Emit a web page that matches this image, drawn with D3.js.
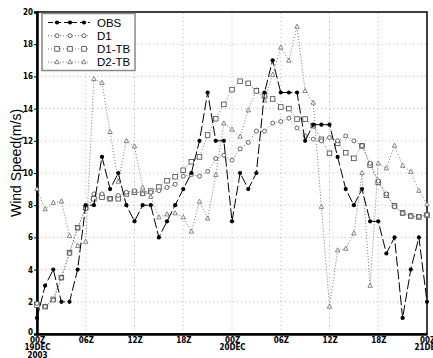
<!DOCTYPE html>
<html>
<head>
<meta charset="utf-8">
<script src="https://cdn.jsdelivr.net/npm/d3@7"></script>
<style>
  body { margin: 0; background: #fff; }
  .tick-label { font-family: "Liberation Sans Narrow", "Arial Narrow", "DejaVu Sans Condensed", sans-serif; font-weight: bold; font-size: 8px; }
</style>
</head>
<body>
<div id="chart"></div>
<script>
// hours since 00Z 19DEC2003
const hours = [0,1,2,3,4,5,6,7,8,9,10,11,12,13,14,15,16,17,18,19,20,21,22,23,24,
    25,26,27,28,29,30,31,32,33,34,35,36,37,38,39,40,41,42,43,44,45,46,47,48];

const obs = [1,3,4,2,2,4,8,8,11,9,10,8,7,8,8,6,7,8,9,10,12,15,12,12,7,10,9,10,15,17,
    15,15,15,12,13,13,13,11,9,8,9,7,7,5,6,1,4,6,2];

const d1 = [1.9,1.7,2.1,3.5,5.0,6.6,7.8,8.7,8.7,8.4,8.6,8.8,8.9,8.7,8.8,8.9,9.1,9.3,9.8,9.9,
    9.8,10.1,10.9,11.1,10.8,11.5,11.9,12.6,12.6,13.1,13.2,13.4,12.8,12.3,12.1,12.0,12.2,12.0,
    12.3,12.0,11.7,10.6,9.5,8.7,7.9,7.5,7.3,7.3,7.4];

const d1tb = [1.8,1.7,2.15,3.5,5.05,6.6,7.85,8.4,8.5,8.4,8.4,8.7,8.8,8.74,8.88,9.13,9.52,9.77,
    10.17,10.7,11.0,12.36,13.37,14.26,15.18,15.7,15.57,15.1,14.8,14.6,14.1,14.0,13.35,13.35,
    12.94,12.09,11.22,11.84,11.26,10.91,11.68,10.5,9.42,8.63,7.97,7.52,7.33,7.27,7.39];

const d2tb = [9.0,7.75,8.15,8.24,6.1,5.47,5.73,15.84,15.6,12.55,9.46,11.99,11.66,9.1,8.53,7.25,
    7.43,7.5,7.25,6.36,8.22,7.18,9.88,13.08,12.7,12.26,13.9,15.15,14.5,16.1,17.8,16.98,19.09,
    15.1,14.37,7.9,1.7,5.2,5.3,6.25,10.0,3.0,10.6,10.29,11.7,10.45,10.08,8.9,8.05];

const seriesNames = ["OBS", "D1", "D1-TB", "D2-TB"];
const yTicks = [0,2,4,6,8,10,12,14,16,18,20];
const xTicks = [0,6,12,18,24,30,36,42,48];
const xTickLabels = [["00Z","19DEC","2003"],["06Z"],["12Z"],["18Z"],["00Z","20DEC"],["06Z"],["12Z"],["18Z"],["00Z","21DEC"]];

const width = 433, height = 358;
const margin = { top: 12, right: 6, bottom: 24, left: 37 };

const svg = d3.select("#chart").append("svg")
    .attr("width", width)
    .attr("height", height);

const xScale = d3.scaleLinear().domain([0, 48]).range([margin.left, width - margin.right]);
const yScale = d3.scaleLinear().domain([0, 20]).range([height - margin.bottom, margin.top]);

// dotted grid
svg.append("g").selectAll("line.h")
    .data(yTicks.slice(1, -1))
    .enter().append("line")
    .attr("x1", xScale(0)).attr("x2", xScale(48))
    .attr("y1", d => yScale(d)).attr("y2", d => yScale(d))
    .attr("stroke", "#bbb").attr("stroke-width", 1).attr("stroke-dasharray", "1,3");

svg.append("g").selectAll("line.v")
    .data(xTicks.slice(1, -1))
    .enter().append("line")
    .attr("x1", d => xScale(d)).attr("x2", d => xScale(d))
    .attr("y1", yScale(0)).attr("y2", yScale(20))
    .attr("stroke", "#bbb").attr("stroke-width", 1).attr("stroke-dasharray", "1,3");

// frame
svg.append("rect")
    .attr("x", xScale(0)).attr("y", yScale(20))
    .attr("width", xScale(48) - xScale(0)).attr("height", yScale(0) - yScale(20))
    .attr("fill", "none").attr("stroke", "#000").attr("stroke-width", 1.5);

// axes
const yAxis = d3.axisLeft(yScale).tickValues(yTicks).tickSize(3).tickPadding(1);
const yG = svg.append("g")
    .attr("transform", `translate(${xScale(0)},0)`)
    .call(yAxis);
yG.select(".domain").attr("stroke-width", 2.5);
yG.selectAll("text").attr("class", "tick-label").attr("fill", "#000");
yG.selectAll(".tick").filter(d => d === 0).select("text").attr("dy", "0.1em");

const xAxis = d3.axisBottom(xScale).tickValues(xTicks).tickSize(0).tickFormat("");
const xG = svg.append("g")
    .attr("transform", `translate(0,${yScale(0)})`)
    .call(xAxis);
xG.select(".domain").attr("stroke-width", 2.5);

xG.selectAll(".tick").each(function (d, i) {
    const t = d3.select(this).append("text")
        .attr("class", "tick-label")
        .attr("text-anchor", "middle")
        .attr("fill", "#000");
    xTickLabels[i].forEach((line, j) => {
        t.append("tspan").attr("x", 0).attr("y", 8.5 + j * 7.5).text(line);
    });
});

// y title
svg.append("text")
    .attr("transform", `translate(21,${(yScale(0) + yScale(20)) / 2 - 10}) rotate(-90)`)
    .attr("text-anchor", "middle")
    .style("font-family", "Liberation Sans, Arial, sans-serif")
    .style("font-size", "14px")
    .text("Wind  Speed(m/s)");

const lineGen = d3.line()
    .x(d => xScale(d.h))
    .y(d => yScale(d.v));

const styles = [
    { data: obs, dash: "10,3", stroke: "#000", width: 1, marker: "dot" },
    { data: d1, dash: "1,2", stroke: "#777", width: 1, marker: "circle" },
    { data: d1tb, dash: "1,2", stroke: "#777", width: 1, marker: "square" },
    { data: d2tb, dash: "1,2", stroke: "#777", width: 1, marker: "triangle" }
];

function drawMarker(g, type, x, y) {
    if (type === "dot") {
        g.append("circle").attr("cx", x).attr("cy", y).attr("r", 2.1).attr("fill", "#000");
    } else if (type === "circle") {
        g.append("circle").attr("cx", x).attr("cy", y).attr("r", 2)
            .attr("fill", "#fff").attr("stroke", "#444").attr("stroke-width", 0.8);
    } else if (type === "square") {
        g.append("rect").attr("x", x - 2.3).attr("y", y - 2.3).attr("width", 4.6).attr("height", 4.6)
            .attr("fill", "#fff").attr("stroke", "#444").attr("stroke-width", 0.8);
    } else {
        g.append("path").attr("d", `M${x},${y - 2.5}L${x + 2.2},${y + 1.6}L${x - 2.2},${y + 1.6}Z`)
            .attr("fill", "#fff").attr("stroke", "#555").attr("stroke-width", 0.7);
    }
}

// draw series, last one first so OBS sits on top
styles.slice().reverse().forEach(s => {
    const pts = hours.map((h, i) => ({ h, v: s.data[i] }));
    svg.append("path")
        .attr("d", lineGen(pts))
        .attr("fill", "none")
        .attr("stroke", s.stroke)
        .attr("stroke-width", s.width)
        .attr("stroke-dasharray", s.dash);
    const g = svg.append("g");
    pts.forEach(p => drawMarker(g, s.marker, xScale(p.h), yScale(p.v)));
});

// legend
const legend = svg.append("g");
legend.append("rect")
    .attr("x", 42).attr("y", 13.5).attr("width", 93).attr("height", 57)
    .attr("fill", "#fff").attr("stroke", "#888").attr("stroke-width", 1.5);

seriesNames.forEach((name, i) => {
    const s = styles[i];
    const y = 22.5 + i * 13.2;
    legend.append("line")
        .attr("x1", 48).attr("x2", 90).attr("y1", y).attr("y2", y)
        .attr("stroke", s.stroke).attr("stroke-width", 1)
        .attr("stroke-dasharray", i === 0 ? "5,3" : "1,2");
    [57, 70, 84].forEach(x => drawMarker(legend, s.marker, x, y));
    legend.append("text")
        .attr("x", 97).attr("y", y + 4)
        .style("font-family", "Liberation Sans, Arial, sans-serif")
        .style("font-size", "11.5px")
        .text(name);
});
</script>
</body>
</html>
